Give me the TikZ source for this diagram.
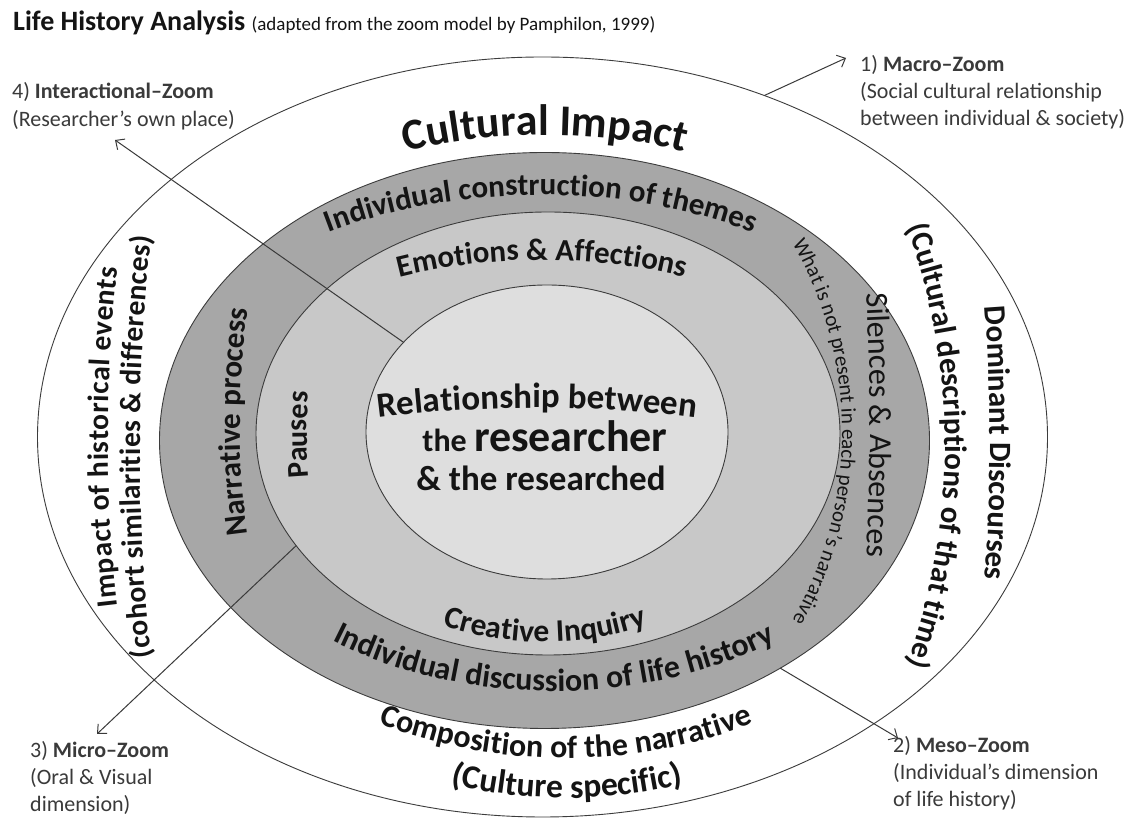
\documentclass[tikz,border=0pt]{standalone}
\usepackage{fontspec}
\setmainfont{Carlito}
\usetikzlibrary{shapes.geometric,decorations.text,calc,arrows.meta}
\definecolor{ringline}{HTML}{3C3C3C}
\definecolor{darkring}{HTML}{A7A7A7}
\definecolor{midring}{HTML}{C8C8C8}
\definecolor{core}{HTML}{DEDEDE}
\definecolor{txt}{HTML}{141414}
\definecolor{notecol}{HTML}{3A3A3A}
\newcommand\fsz[1]{\fontsize{#1}{#1}\selectfont}
% text set along an elliptic arc: centre, x radius, y radius, start, end, format, text
\newcommand\pathtext[7]{%
  \path[decorate, decoration={text along path, text align=center, text color=txt, text={|#6|#7}}]
    ($(#1)+(#4:#2 and #3)$) arc[start angle=#4, end angle=#5, x radius=#2, y radius=#3];}
% same, but the letters are spread over the whole arc
\newcommand\fittext[7]{%
  \path[decorate, decoration={text along path, text align={fit to path}, text color=txt, text={|#6|#7}}]
    ($(#1)+(#4:#2 and #3)$) arc[start angle=#4, end angle=#5, x radius=#2, y radius=#3];}

\begin{document}
\begin{tikzpicture}[x=1pt,y=1pt,
  ring/.style={ellipse, draw=ringline, line width=0.9pt, inner sep=0pt, outer sep=0pt},
  note/.style={anchor=base west, inner sep=0pt, text=notecol, font=\fsz{22}},
  zoomarrow/.style={draw=notecol, line width=1pt, -{Straight Barb[length=7pt,width=13pt]}}]
\useasboundingbox (0,0) rectangle (1130,819);
\fill[white] (0,0) rectangle (1130,819);

% the four nested zones
\node[ring, fill=white, minimum width=1010pt, minimum height=760pt] (outer) at (542.5,382) {};
\node[ring, fill=darkring, minimum width=770pt, minimum height=576pt] (dark) at (544.5,378.5) {};
\node[ring, fill=midring, minimum width=584pt, minimum height=443pt] (mid) at (548,385.5) {};
\node[ring, fill=core, minimum width=362pt, minimum height=294pt] (core) at (547,387) {};

% heading
\node[anchor=base west, inner sep=0pt, text=txt] (title) at (13,788)
  {{\fsz{28}\bfseries Life History Analysis }{\fsz{19}(adapted from the zoom model by Pamphilon, 1999)}};

% zoom annotations
\node[note] (int1) at (12,720) {4) \textbf{Interactional–Zoom}};
\node[note] (int2) at (12,692) {(Researcher’s own place)};
\node[note] (mac1) at (860,747) {1) \textbf{Macro–Zoom}};
\node[note] (mac2) at (860,720) {(Social cultural relationship};
\node[note] (mac3) at (860,693) {between individual \& society)};
\node[note] (mic1) at (30,61) {3) \textbf{Micro–Zoom}};
\node[note] (mic2) at (30,34) {(Oral \& Visual};
\node[note] (mic3) at (30,7) {dimension)};
\node[note] (mes1) at (893,66) {2) \textbf{Meso–Zoom}};
\node[note] (mes2) at (893,39) {(Individual’s dimension};
\node[note] (mes3) at (893,12) {of life history)};

% arrow tips
\coordinate (macTip) at (846,761);
\coordinate (intTip) at (115,679);
\coordinate (micTip) at (97,85);
\coordinate (mesTip) at (898,81);

\draw[zoomarrow] (outer.57.5) -- (macTip);
\draw[zoomarrow] (core.148.8) -- (intTip);
\draw[zoomarrow] (mid.204.9) -- (micTip);
\draw[zoomarrow] (dark.316.5) -- (mesTip);

% centre
\pathtext{537,291}{400}{120}{130}{50}{\bfseries\fsz{35}}{Relationship between}
\node[anchor=base, inner sep=0pt, text=txt, font=\bfseries] (res1) at (545,367) {\fsz{32}the \fsz{44}researcher};
\node[anchor=base, inner sep=0pt, text=txt, font=\bfseries] (res2) at (541,328) {\fsz{35}{\&} the researched};

% upper arcs
\pathtext{545,382}{427}{302}{130}{50}{\bfseries\fsz{44}}{Cultural Impact}
\pathtext{541,382}{397}{242}{150}{30}{\bfseries\fsz{31}}{Individual construction of themes}
\pathtext{542,382}{330}{177}{150}{30}{\bfseries\fsz{31}}{Emotions {\&} Affections}

% lower arcs
\pathtext{545,382}{258}{205}{220}{320}{\bfseries\fsz{31.5}}{Creative Inquiry}
\pathtext{554,382}{372}{254}{200}{340}{\bfseries\fsz{32}}{Individual discussion of life history}
\pathtext{566,382}{414}{321}{200}{340}{\bfseries\fsz{32}}{Composition of the narrative}
\pathtext{567,382}{421}{361}{230}{310}{\bfseries\fsz{33.6}}{(Culture specific)}

% left side
\pathtext{545,397}{305}{506}{210}{150}{\bfseries\fsz{31}}{Narrative process}
\pathtext{545,384}{238}{350}{200}{160}{\bfseries\fsz{30}}{Pauses}
\fittext{545,382}{437}{800}{192.2}{167.8}{\bfseries\fsz{29.5}}{Impact of historical events}
\fittext{545,372}{405}{900}{193.5}{166.5}{\bfseries\fsz{29.5}}{(cohort similarities {\&} differences)}

% right side
\pathtext{545,394}{325}{900}{20}{-20}{\fsz{32}}{Silences {\&} Absences}
\pathtext{545,387}{297}{340}{60}{-60}{\fsz{21}}{What is not present in each person’s narrative}
\pathtext{545,376}{445}{900}{20}{-20}{\bfseries\fsz{31}}{Dominant Discourses}
\pathtext{545,373}{400}{512}{40}{-40}{\bfseries\fsz{31}}{(Cultural descriptions of that time)}
\end{tikzpicture}
\end{document}
